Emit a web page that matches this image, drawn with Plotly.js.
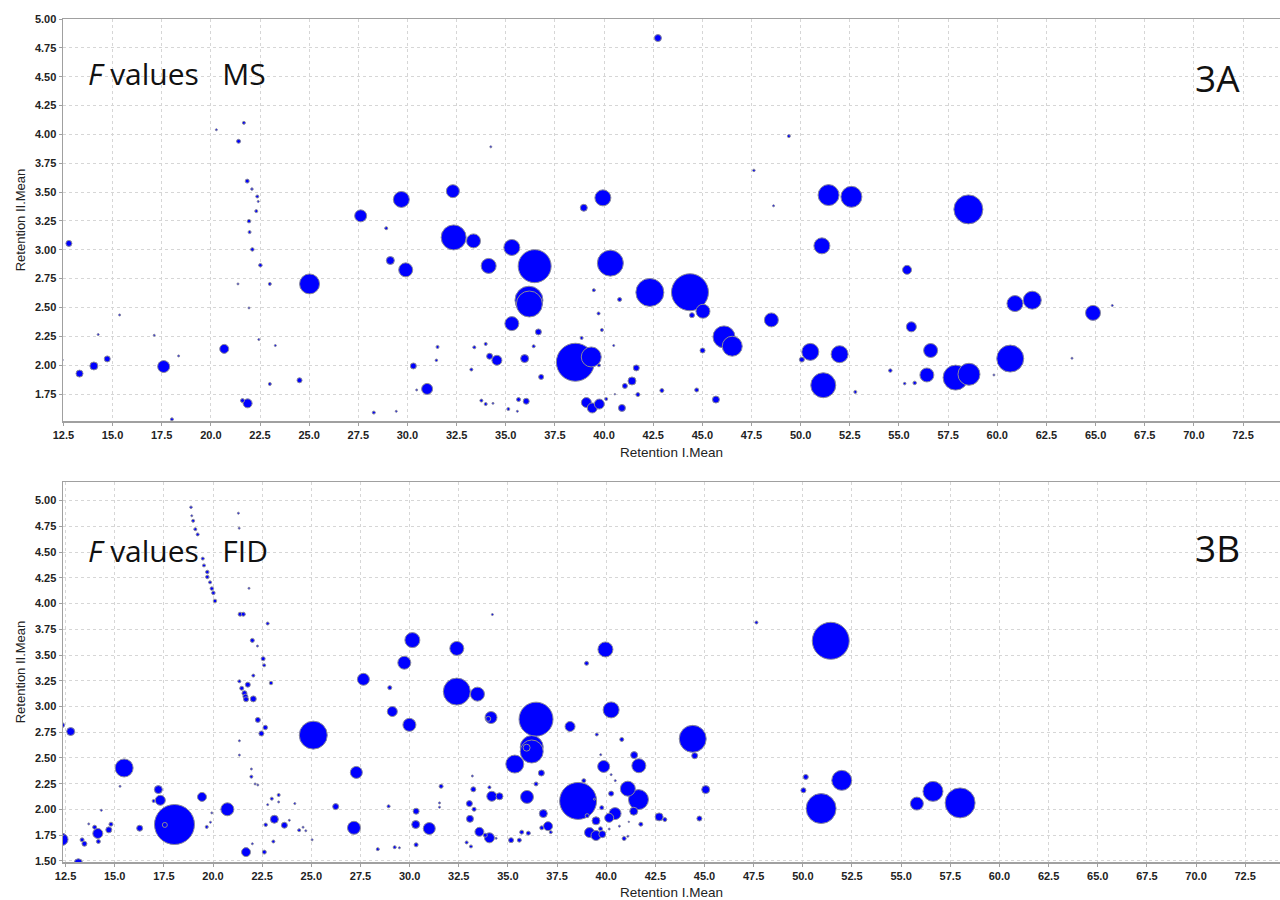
<!DOCTYPE html>
<html>
<head>
<meta charset="utf-8">
<script src="https://cdn.plot.ly/plotly-3.0.1.min.js"></script>
<style>html,body{margin:0;padding:0;background:#fff;}#chart{width:1280px;height:900px;}</style>
</head>
<body>
<div id="chart"></div>
<script>
// ---- 3A: F values MS (Retention I.Mean, Retention II.Mean, bubble diameter) ----
const msX = [20.28,21.68,21.41,21.85,22.09,22.36,22.41,22.31,27.62,29.69,21.94,21.97,22.11,22.52,21.38,23.0,21.94,22.44,23.28,12.78,25.02,28.92,29.13,29.91,15.36,14.27,17.12,18.36,20.68,12.44,13.32,14.05,14.73,17.6,21.61,21.87,18.02,23.0,24.51,28.29,29.43,30.3,30.47,31.0,42.74,34.24,49.4,47.62,48.62,32.31,38.97,39.94,51.42,52.58,32.35,33.36,35.31,34.13,36.47,40.32,51.08,42.33,44.37,36.18,36.2,39.48,40.79,39.72,39.89,38.86,40.49,45.03,44.47,48.51,35.31,36.66,46.1,46.52,36.42,33.98,33.4,31.53,31.47,34.18,34.55,35.96,38.54,39.35,39.74,45.01,50.06,50.49,51.98,51.15,33.25,36.8,41.64,41.42,41.06,41.72,42.94,44.71,45.69,40.55,40.11,39.1,39.4,39.76,40.91,33.76,33.98,34.35,35.65,36.04,35.13,35.59,58.53,55.41,55.63,60.9,61.78,64.87,65.85,56.61,54.56,56.42,55.29,55.8,52.78,57.88,58.56,59.83,60.66,63.8];
const msY = [4.04,4.10,3.94,3.595,3.526,3.462,3.419,3.335,3.294,3.436,3.248,3.153,3.003,2.866,2.704,2.704,2.496,2.222,2.17,3.055,2.704,3.187,2.907,2.826,2.435,2.265,2.259,2.08,2.141,2.045,1.927,1.993,2.054,1.988,1.693,1.669,1.531,1.837,1.869,1.589,1.6,1.993,1.785,1.794,4.835,3.892,3.985,3.688,3.381,3.508,3.364,3.45,3.474,3.459,3.107,3.077,3.02,2.86,2.858,2.884,3.034,2.63,2.632,2.563,2.53,2.65,2.569,2.448,2.305,2.236,2.17,2.467,2.433,2.392,2.36,2.288,2.245,2.164,2.164,2.184,2.155,2.158,2.042,2.077,2.042,2.057,2.025,2.071,1.999,2.127,2.048,2.115,2.095,1.826,1.962,1.898,1.976,1.863,1.82,1.745,1.78,1.785,1.702,1.748,1.707,1.676,1.629,1.663,1.629,1.693,1.663,1.669,1.702,1.687,1.62,1.6,3.35,2.826,2.332,2.534,2.563,2.453,2.517,2.127,1.953,1.915,1.84,1.846,1.768,1.892,1.921,1.915,2.057,2.06];
const msSize = [2,3,4,4,2.5,3,2,3,12,16,3.5,3,3.5,3.5,2,3,2,2,2,6,20,3,8,14,2,2,2,2,9,2,7,8,6,12,4,9,3,3,5,3,2,6,2,11,7,2,3,2.5,2,13,7,16,21,21,25,14,16,15,33,26,16,28,37,28,26,3,4,3,3,3,2,14,5,14,14,6,22,20,3,3,3,3,2.5,6,10,8,38,20,3,5,5,17,17,25,3,5,6,8,5,4,4,4,7,1.5,3,10,10,10,7,3,3,2,4,6,3,2,29,9,10,16,18,15,2,14,3.5,14,2.5,3.5,3,25,22,2,27,2];

// ---- 3B: F values FID ----
const fidX = [18.88,18.92,18.99,19.1,19.22,19.48,19.54,19.71,19.71,19.85,19.94,20.02,20.1,21.29,21.33,21.83,21.38,21.54,22.78,22.0,22.26,22.55,22.6,30.14,29.73,21.34,22.05,21.77,21.46,21.6,21.65,21.68,22.05,22.95,27.65,28.99,29.12,29.99,22.28,22.66,22.46,25.1,12.32,12.76,21.34,21.34,15.48,27.29,21.95,21.95,22.14,22.28,15.27,17.22,17.32,16.98,19.44,20.73,19.94,19.87,19.68,18.04,17.55,14.32,13.68,13.98,14.14,14.17,14.7,14.81,16.27,13.34,13.46,12.32,12.39,13.15,21.68,22.0,22.61,22.68,23.12,23.63,23.88,22.99,23.34,23.34,22.78,24.16,24.38,24.58,24.72,25.04,23.07,26.24,27.17,28.38,29.24,29.48,28.93,30.33,30.31,30.33,31.0,39.0,32.4,33.45,34.14,34.0,36.43,40.25,38.16,39.52,40.79,44.4,44.5,36.21,36.21,35.95,39.72,35.35,36.7,39.87,41.42,41.66,40.25,40.46,33.19,31.6,36.43,38.86,33.24,34.06,34.18,34.57,35.97,41.1,41.64,45.06,50.15,50.03,51.98,50.93,38.57,39.03,39.4,39.77,40.25,40.45,40.15,41.4,42.69,42.98,44.74,41.76,41.15,40.67,40.15,39.48,39.71,39.15,39.48,39.8,40.91,41.1,36.8,37.04,36.72,37.18,33.04,33.28,33.07,31.52,31.52,33.55,34.06,33.85,34.4,32.9,33.12,35.16,35.58,35.7,36.04,34.21,47.64,32.4,39.96,51.42,56.62,55.8,58.0];
const fidY = [4.935,4.852,4.803,4.722,4.671,4.436,4.37,4.306,4.258,4.206,4.145,4.103,4.025,4.877,4.732,4.148,3.896,3.896,3.806,3.642,3.587,3.464,3.4,3.645,3.425,3.245,3.3,3.212,3.177,3.129,3.096,3.07,3.074,3.228,3.264,3.183,2.951,2.822,2.87,2.796,2.738,2.722,2.819,2.757,2.667,2.528,2.403,2.36,2.393,2.319,2.248,2.238,2.225,2.193,2.089,2.083,2.122,2.002,1.967,1.876,1.831,1.854,1.85,1.992,1.86,1.828,1.767,1.689,1.802,1.857,1.818,1.705,1.667,1.709,1.757,1.483,1.586,1.667,1.586,1.851,1.905,1.847,1.895,2.105,2.141,2.073,2.047,2.057,1.799,1.828,1.793,1.705,1.689,2.028,1.822,1.615,1.634,1.628,2.031,1.983,1.854,1.657,1.815,3.419,3.145,3.12,2.893,2.88,2.877,2.967,2.806,2.728,2.68,2.686,2.522,2.606,2.563,2.60,2.532,2.441,2.354,2.418,2.528,2.425,2.338,2.28,2.325,2.225,2.248,2.28,2.196,2.215,2.128,2.128,2.122,2.202,2.096,2.193,2.316,2.186,2.283,2.009,2.083,1.94,2.1,2.018,2.154,1.96,1.919,1.983,1.928,1.902,1.912,1.857,1.88,1.838,1.81,1.89,1.812,1.776,1.747,1.76,1.718,1.74,1.96,1.838,1.822,1.78,2.057,2.002,1.909,2.064,2.022,1.783,1.725,1.75,1.72,1.68,1.641,1.702,1.702,1.78,1.77,3.893,3.816,3.564,3.554,3.638,2.176,2.057,2.064];
const fidSize = [2.5,2,3,3,3,3,3,3.5,3.5,3,3.5,3.5,3.5,2,2,2,4,4,3,4,2,4,3,15,13,3,3,5,4,5,5,5,6,3.5,12,4,10,13,5,4.5,5,28,5,8,2,2,18,12,2,3,2,2,2,8,10,3,9,13,2,2,3,40,5,2,2,4,10,4,6,4,6,4,5,12,2,8,9,2,4,3.5,8,6,2,3,3,2,2,2,3,2,2,2,3,6,13,3,3,2,3,6,8,4,12,4,27,14,12,5,34,16,10,3,4,27,6,23,23,7,2,18,6,12,7,14,2,2,2,4,4,4,5,3,10,7,13,15,20,8,5,5,20,30,37,4,2,4,5,12,9,8,8,4,5,4,1.5,2,2,8,4,10,10,7,4,2,8,9,4,3,6,4,7,2,2,9,10,4,2,3,3,5,4,4,4,2,3,14,15,37,20,13,30];

const xTickLabels = ['12.5','15.0','17.5','20.0','22.5','25.0','27.5','30.0','32.5','35.0','37.5','40.0','42.5','45.0','47.5','50.0','52.5','55.0','57.5','60.0','62.5','65.0','67.5','70.0','72.5'];
const xTickVals = xTickLabels.map(Number);
const yTickLabelsA = ['1.75','2.00','2.25','2.50','2.75','3.00','3.25','3.50','3.75','4.00','4.25','4.50','4.75','5.00'];
const yTickLabelsB = ['1.50','1.75','2.00','2.25','2.50','2.75','3.00','3.25','3.50','3.75','4.00','4.25','4.50','4.75','5.00'];

function sorted(xs, ys, ss) {
  const idx = xs.map((_, i) => i).sort((a, b) => ss[b] - ss[a]);
  return {x: idx.map(i => xs[i]), y: idx.map(i => ys[i]), s: idx.map(i => ss[i])};
}

const A = sorted(msX, msY, msSize);
const B = sorted(fidX, fidY, fidSize);

const markerBase = {color: '#0000ff', line: {color: '#8a8a9a', width: 1}, opacity: 1};

const traces = [
  {type: 'scatter', mode: 'markers', x: A.x, y: A.y, xaxis: 'x', yaxis: 'y',
   marker: Object.assign({}, markerBase, {size: A.s}), cliponaxis: true, hoverinfo: 'x+y'},
  {type: 'scatter', mode: 'markers', x: B.x, y: B.y, xaxis: 'x2', yaxis: 'y2',
   marker: Object.assign({}, markerBase, {size: B.s}), cliponaxis: true, hoverinfo: 'x+y'}
];

const tickFont = {family: 'Liberation Sans, Arial, sans-serif', size: 11, color: '#222', weight: 'bold'};
const titleFont = {family: 'Liberation Sans, Arial, sans-serif', size: 13.5, color: '#222'};

function xAxis(range, anchor) {
  return {
    domain: [63/1280, 1], range: range, anchor: anchor,
    tickvals: xTickVals, ticktext: xTickLabels,
    showgrid: true, gridcolor: '#d6d6d6', griddash: 'dot', gridwidth: 1,
    zeroline: false, showline: true, linecolor: '#a0a0a0', linewidth: 1.5, mirror: true,
    ticks: 'outside', ticklen: 3, tickcolor: '#a0a0a0',
    tickfont: tickFont,
    title: {text: 'Retention I.Mean', font: titleFont, standoff: 8}
  };
}
function yAxis(range, domain, labels, anchor) {
  return {
    domain: domain, range: range, anchor: anchor,
    tickvals: labels.map(Number), ticktext: labels,
    showgrid: true, gridcolor: '#d6d6d6', griddash: 'dot', gridwidth: 1,
    zeroline: false, showline: true, linecolor: '#a0a0a0', linewidth: 1.5, mirror: true,
    ticks: 'outside', ticklen: 3, tickcolor: '#a0a0a0',
    tickfont: tickFont,
    title: {text: 'Retention II.Mean', font: {family: titleFont.family, size: 13, color: '#222'}, standoff: 6}
  };
}

const annFont = {family: 'Open Sans, Lato, sans-serif', size: 30, color: '#111'};
const tagFont = {family: 'Open Sans, Lato, sans-serif', size: 37, color: '#111'};
const layout = {
  width: 1280, height: 900,
  margin: {l: 0, r: 0, t: 0, b: 0},
  paper_bgcolor: '#ffffff', plot_bgcolor: '#ffffff',
  showlegend: false,
  xaxis: xAxis([12.48, 74.38], 'y'),
  yaxis: yAxis([1.516, 5.0], [1 - 421/900, 1 - 19/900], yTickLabelsA, 'x'),
  xaxis2: xAxis([12.37, 74.27], 'y2'),
  yaxis2: yAxis([1.49, 5.18], [1 - 862/900, 1 - 482/900], yTickLabelsB, 'x2'),
  annotations: [
    {xref: 'paper', yref: 'paper', x: 86/1280, y: 1 - 74/900, xanchor: 'left', yanchor: 'middle',
     text: '<i>F</i>\u00a0values\u00a0\u00a0\u00a0MS', showarrow: false, font: annFont},
    {xref: 'paper', yref: 'paper', x: 1242/1280, y: 1 - 77/900, xanchor: 'right', yanchor: 'middle',
     text: '3A', showarrow: false, font: tagFont},
    {xref: 'paper', yref: 'paper', x: 86/1280, y: 1 - 550/900, xanchor: 'left', yanchor: 'middle',
     text: '<i>F</i>\u00a0values\u00a0\u00a0\u00a0FID', showarrow: false, font: annFont},
    {xref: 'paper', yref: 'paper', x: 1242/1280, y: 1 - 547/900, xanchor: 'right', yanchor: 'middle',
     text: '3B', showarrow: false, font: tagFont}
  ]
};

Plotly.newPlot('chart', traces, layout, {staticPlot: true, displayModeBar: false});
</script>
</body>
</html>
